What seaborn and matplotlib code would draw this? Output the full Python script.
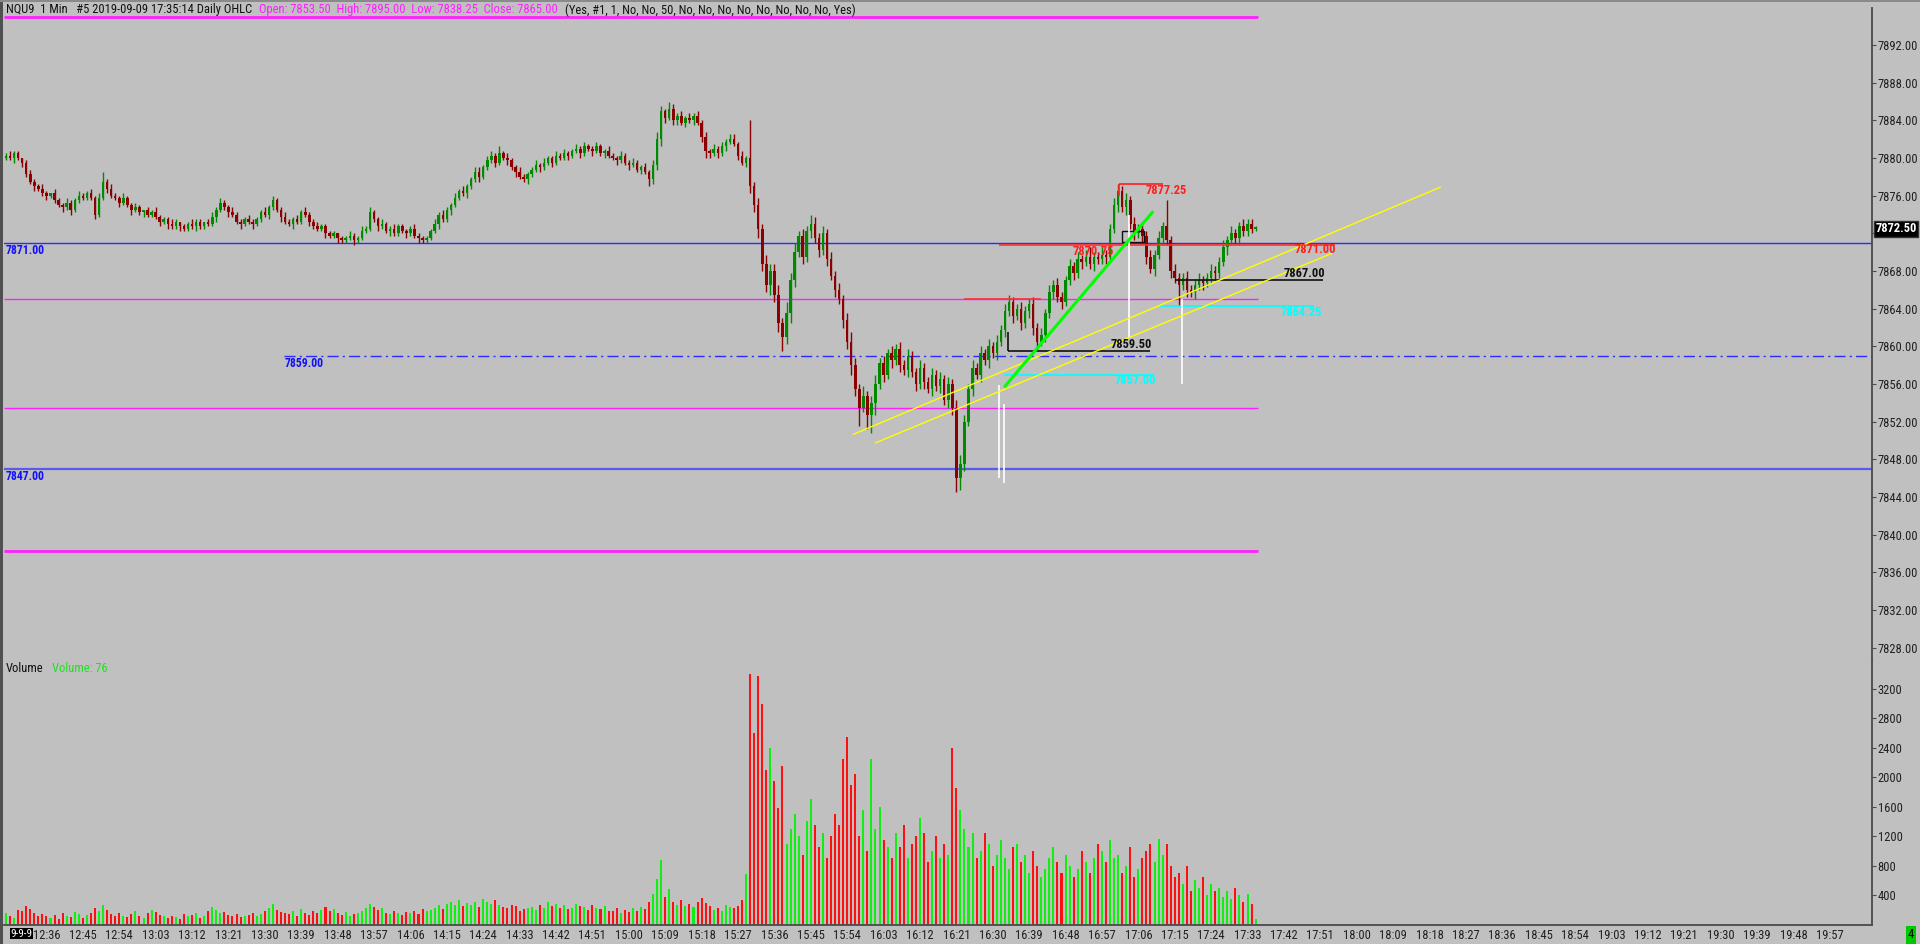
import numpy as np
import pandas as pd
import seaborn as sns
import matplotlib.pyplot as plt
import matplotlib.transforms as mtransforms
from matplotlib import font_manager
from matplotlib.patches import Rectangle

# ---------------- data ----------------
first_open = 7880.0

closes = [
    7880.25, 7880.0, 7880.5, 7880.0, 7879.5, 7878.25, 7877.5, 7877.0, 7876.75, 7876.25,
    7876.0, 7876.25, 7875.5, 7875.0, 7874.75, 7875.25, 7874.5, 7875.5, 7876.0, 7875.75,
    7876.25, 7875.75, 7874.0, 7875.75, 7877.5, 7876.75, 7876.0, 7875.75, 7875.25, 7875.75,
    7875.0, 7874.5, 7874.75, 7874.25, 7874.5, 7874.0, 7874.25, 7873.75, 7873.25, 7873.5,
    7873.0, 7872.75, 7873.25, 7872.75, 7872.5, 7873.0, 7872.75, 7873.25, 7872.75, 7873.25,
    7873.0, 7873.75, 7874.5, 7875.25, 7874.75, 7874.25, 7874.0, 7873.25, 7873.0, 7873.5,
    7873.25, 7873.0, 7873.5, 7874.25, 7874.0, 7874.75, 7875.5, 7874.5, 7873.75, 7873.25,
    7873.0, 7873.5, 7873.25, 7874.25, 7874.0, 7873.25, 7872.75, 7872.5, 7872.75, 7872.0,
    7871.75, 7872.0, 7871.5, 7871.25, 7871.5, 7871.75, 7871.25, 7871.5, 7872.25, 7872.5,
    7874.25, 7873.5, 7872.75, 7873.0, 7872.25, 7872.5, 7872.0, 7872.75, 7872.25, 7872.0,
    7872.5, 7871.75, 7871.5, 7871.25, 7871.5, 7872.25, 7873.0, 7874.0, 7873.5, 7874.5,
    7875.0, 7875.75, 7876.5, 7876.25, 7877.0, 7877.75, 7878.5, 7878.0, 7879.0, 7879.75,
    7880.25, 7879.5, 7880.5, 7880.0, 7879.75, 7879.0, 7878.5, 7878.0, 7877.75, 7878.25,
    7878.75, 7879.25, 7879.0, 7879.5, 7880.0, 7879.5, 7880.25, 7880.0, 7880.5, 7880.25,
    7880.75, 7881.0, 7880.5, 7881.25, 7881.0, 7880.75, 7881.25, 7880.5, 7880.75, 7880.25,
    7880.0, 7879.75, 7880.25, 7879.5, 7879.25, 7879.5, 7878.75, 7879.0, 7878.5, 7877.75,
    7879.25, 7882.0, 7885.0, 7884.25, 7885.25, 7884.0, 7884.5, 7883.75, 7884.25, 7884.0,
    7884.5, 7883.75, 7882.25, 7880.75, 7880.5, 7881.0, 7880.5, 7881.25, 7881.75, 7882.0,
    7881.5, 7880.25, 7879.5, 7880.0, 7877.0, 7875.0, 7872.5, 7868.75, 7866.5, 7868.0,
    7865.5, 7862.5, 7861.0, 7863.5, 7867.0, 7870.0, 7871.75, 7869.5, 7872.25, 7873.0,
    7871.5, 7870.25, 7872.0, 7869.25, 7867.5, 7866.0, 7865.0, 7862.75, 7860.5, 7858.0,
    7855.5, 7853.5, 7854.75, 7852.75, 7854.0, 7856.0, 7858.25, 7857.0, 7859.25, 7858.5,
    7859.75, 7858.0, 7857.5, 7859.0, 7857.25, 7856.0, 7857.75, 7856.25, 7855.5, 7857.0,
    7855.75, 7856.5, 7854.25, 7856.0, 7853.5, 7846.0, 7847.5, 7852.0, 7855.5, 7857.75,
    7857.0, 7859.25, 7858.5, 7860.0, 7859.25, 7860.5, 7861.75, 7863.75, 7864.75, 7863.25,
    7864.0, 7862.5, 7863.75, 7864.5, 7862.0, 7860.5, 7861.25, 7863.5, 7865.75, 7866.5,
    7865.25, 7864.75, 7867.0, 7868.5, 7867.75, 7869.25, 7869.0, 7869.5, 7868.75, 7869.5,
    7869.25, 7869.75, 7869.5, 7872.5, 7875.0, 7876.5, 7874.75, 7875.5, 7873.0, 7872.0,
    7872.5, 7871.75, 7869.5, 7868.25, 7869.75, 7871.5, 7872.75, 7871.25, 7868.0, 7867.25,
    7866.5, 7867.25, 7866.0, 7865.75, 7866.5, 7867.0, 7866.75, 7867.25, 7868.0, 7867.75,
    7869.0, 7870.5, 7871.25, 7872.0, 7871.5, 7872.75, 7872.25, 7873.0, 7872.5, 7872.5,
]

# wick lengths above / below the body, in 0.25 ticks
up_ticks = [
    1, 2, 1, 1, 0, 1, 2, 1, 1, 2,  1, 0, 2, 1, 1, 2, 1, 1, 2, 1,
    1, 2, 1, 2, 4, 1, 2, 1, 1, 2,  1, 1, 2, 1, 0, 1, 1, 2, 1, 1,
    1, 2, 1, 0, 1, 1, 2, 1, 1, 0,  1, 2, 1, 2, 1, 1, 2, 1, 1, 1,
    2, 1, 1, 1, 2, 1, 2, 1, 1, 2,  1, 1, 2, 1, 2, 1, 1, 2, 1, 1,
    1, 1, 0, 1, 1, 2, 1, 1, 2, 1,  2, 1, 1, 2, 1, 1, 2, 1, 1, 1,
    1, 2, 1, 1, 1, 1, 2, 1, 2, 1,  1, 2, 1, 2, 1, 1, 2, 2, 1, 2,
    2, 1, 3, 1, 2, 1, 1, 2, 1, 1,  1, 2, 1, 2, 1, 1, 2, 1, 2, 1,
    1, 2, 1, 2, 1, 1, 2, 1, 1, 2,  1, 1, 2, 1, 1, 2, 1, 1, 2, 1,
    2, 3, 2, 1, 3, 2, 1, 2, 1, 2,  1, 2, 1, 2, 1, 2, 1, 2, 1, 2,
    2, 1, 2, 1, 16, 2, 3, 2, 4, 3,  3, 4, 2, 5, 3, 4, 2, 3, 2, 4,
    3, 2, 3, 2, 3, 2, 3, 2, 3, 4,  3, 2, 4, 2, 3, 4, 2, 3, 2, 3,
    2, 3, 2, 3, 2, 2, 3, 2, 2, 3,  2, 3, 2, 3, 2, 3, 4, 3, 2, 3,
    2, 3, 2, 3, 2, 3, 2, 3, 3, 2,  2, 3, 2, 2, 3, 2, 3, 2, 3, 2,
    3, 2, 2, 3, 2, 3, 2, 3, 4, 2,  2, 3, 2, 2, 3, 3, 2, 3, 2, 3,
    2, 3, 2, 3, 2, 3, 2, 11, 2, 3,  2, 2, 3, 2, 2, 3, 2, 2, 3, 2,
    2, 3, 2, 3, 2, 2, 3, 2, 2, 1,
]
dn_ticks = [
    1, 1, 2, 1, 2, 1, 1, 2, 1, 1,  2, 1, 1, 1, 2, 1, 2, 1, 1, 1,
    1, 1, 2, 1, 1, 2, 1, 1, 2, 1,  1, 2, 1, 1, 2, 1, 1, 1, 2, 1,
    2, 1, 1, 2, 1, 1, 1, 2, 1, 1,  1, 1, 2, 1, 1, 2, 1, 1, 2, 1,
    1, 2, 1, 1, 1, 2, 1, 1, 2, 1,  1, 2, 1, 1, 1, 2, 1, 1, 1, 2,
    1, 1, 2, 1, 1, 1, 2, 1, 1, 1,  1, 1, 2, 1, 1, 2, 1, 1, 1, 2,
    1, 1, 2, 1, 1, 1, 1, 2, 1, 1,  2, 1, 1, 1, 2, 1, 1, 2, 1, 1,
    1, 2, 1, 1, 2, 1, 2, 1, 1, 2,  1, 1, 2, 1, 1, 2, 1, 1, 1, 2,
    1, 1, 2, 1, 1, 2, 1, 1, 2, 1,  1, 2, 1, 1, 2, 1, 1, 2, 1, 3,
    2, 2, 3, 2, 1, 2, 2, 1, 2, 1,  2, 1, 2, 3, 2, 1, 2, 1, 2, 1,
    1, 2, 1, 2, 3, 3, 4, 3, 3, 4,  3, 4, 6, 3, 4, 3, 2, 3, 2, 3,
    2, 3, 2, 3, 2, 3, 2, 3, 3, 4,  3, 8, 2, 6, 8, 5, 2, 3, 2, 3,
    2, 3, 2, 3, 2, 3, 2, 3, 2, 3,  2, 3, 2, 3, 3, 6, 5, 3, 2, 3,
    2, 3, 2, 3, 2, 3, 2, 3, 2, 3,  2, 3, 2, 3, 3, 4, 2, 3, 2, 3,
    2, 3, 2, 2, 3, 2, 3, 2, 2, 3,  2, 2, 3, 2, 2, 3, 2, 3, 2, 3,
    2, 3, 3, 2, 3, 2, 3, 2, 3, 2,  9, 2, 3, 2, 3, 2, 3, 2, 2, 3,
    2, 2, 3, 2, 2, 3, 2, 2, 2, 1,
]

volumes = [
    150, 120, 90, 200, 180, 250, 210, 160, 120, 140,
    110, 90, 130, 80, 160, 120, 100, 170, 140, 90,
    130, 150, 220, 180, 260, 200, 140, 110, 150, 120,
    100, 140, 180, 120, 90, 150, 200, 170, 130, 110,
    90, 120, 100, 80, 140, 110, 130, 160, 90, 120,
    180, 240, 200, 150, 170, 130, 110, 140, 100, 120,
    130, 160, 110, 140, 190, 220, 280, 200, 170, 150,
    140, 180, 120, 210, 160, 130, 190, 150, 200, 240,
    180, 210, 150, 130, 170, 120, 140, 160, 190, 230,
    280, 240, 200, 220, 160, 140, 180, 150, 130, 170,
    160, 190, 140, 210, 180, 200, 230, 260, 210, 280,
    300, 270, 330, 250, 290, 260, 310, 240, 350, 300,
    280, 330, 260, 240, 220, 270, 250, 190, 210, 230,
    240, 200, 260, 220, 300, 250, 280, 230, 270, 210,
    220, 280, 250, 240, 200, 260, 230, 210, 250, 190,
    180, 220, 160, 200, 170, 230, 190, 240, 210, 300,
    420, 620, 870, 380, 480, 300, 260, 330, 250, 280,
    240, 310, 360, 290, 250, 200, 230, 190, 260, 240,
    220, 250, 330, 680, 3400, 2600, 3380, 3000, 2100, 2400,
    1950, 1580, 2150, 1100, 1300, 1500, 1200, 950, 1400, 1700,
    1350, 1050, 1250, 900, 1200, 1500, 1350, 2250, 2550, 1900,
    2050, 1200, 1550, 1000, 2250, 1300, 1600, 1150, 1050, 900,
    1250, 1050, 1350, 900, 1100, 1200, 1450, 1250, 850, 1000,
    1200, 900, 1100, 950, 2400, 1850, 1550, 1300, 1050, 1250,
    900, 1000, 1250, 1100, 800, 950, 1150, 900, 750, 1050,
    1100, 850, 950, 700, 1000, 800, 650, 750, 900, 1050,
    850, 700, 950, 800, 650, 750, 1000, 850, 700, 900,
    1100, 1000, 850, 1150, 900, 950, 700, 800, 1050, 650,
    750, 900, 1000, 1100, 850, 1160, 950, 1100, 800, 650,
    700, 550, 800, 450, 600, 500, 650, 400, 550, 450,
    500, 380, 450, 350, 500, 400, 300, 420, 280, 76,
]

time_labels = [
    '9-9-9', '12:36', '12:45', '12:54', '13:03', '13:12', '13:21', '13:30', '13:39',
    '13:48', '13:57', '14:06', '14:15', '14:24', '14:33', '14:42', '14:51', '15:00',
    '15:09', '15:18', '15:27', '15:36', '15:45', '15:54', '16:03', '16:12', '16:21',
    '16:30', '16:39', '16:48', '16:57', '17:06', '17:15', '17:24', '17:33', '17:42',
    '17:51', '18:00', '18:09', '18:18', '18:27', '18:36', '18:45', '18:54', '19:03',
    '19:12', '19:21', '19:30', '19:39', '19:48', '19:57',
]

price_ticks = [7828, 7832, 7836, 7840, 7844, 7848, 7852, 7856, 7860,
               7864, 7868, 7872, 7876, 7880, 7884, 7888, 7892]
volume_ticks = [400, 800, 1200, 1600, 2000, 2400, 2800, 3200]

daily_levels = [7895.0, 7865.0, 7853.5, 7838.25]   # high, close, open, low
daily_widths = [2.0, 1.0, 1.0, 2.0]
blue_levels = [7871.0, 7847.0]
dash_level = 7859.0
last_price = 7872.50

header_parts = [
    ('NQU9  1 Min   #5 2019-09-09 17:35:14 Daily OHLC', '#101010'),
    ('Open: 7853.50  High: 7895.00  Low: 7838.25  Close: 7865.00', '#FF20FF'),
    ('(Yes, #1, 1, No, No, 50, No, No, No, No, No, No, No, No, Yes)', '#101010'),
]

# drawn objects: (bar_start, bar_end, price, colour)
hsegments = [
    (275.3, 286.2, 7877.25, '#FF2020'),
    (245.6, 328.7, 7870.75, '#FF3030'),
    (237.0, 256.0, 7865.0, '#FF3030'),
    (289.0, 325.7, 7867.0, '#101010'),
    (285.3, 323.5, 7864.25, '#00FFFF'),
    (247.7, 282.9, 7859.5, '#101010'),
    (246.8, 283.8, 7857.0, '#00FFFF'),
]
# labels: (bar, price, text, colour)
seg_labels = [
    (286.8, 7876.5, '7877.25', '#FF2020'),
    (268.8, 7870.1, '7870.75', '#FF2020'),
    (323.9, 7870.3, '7871.00', '#FF2020'),
    (321.1, 7867.7, '7867.00', '#101010'),
    (320.2, 7863.6, '7864.25', '#00FFFF'),
    (278.3, 7860.15, '7859.50', '#101010'),
    (279.2, 7856.4, '7857.00', '#00FFFF'),
]
# white vertical markers: (bar, price_top, price_bottom)
white_marks = [(245.6, 7855.9, 7846.0), (246.8, 7853.9, 7845.5),
               (277.7, 7874.0, 7861.0), (290.8, 7865.0, 7856.0)]
green_line = [(247.0, 7855.75), (283.5, 7874.25)]
yellow_lines = [[(209.5, 7850.65), (354.7, 7876.9)],
                [(215.0, 7849.75), (328.0, 7869.9)]]

# ---------------- frame ----------------
n = len(closes)
opens = [first_open] + closes[:-1]
df = pd.DataFrame({'bar': np.arange(n), 'open': opens, 'close': closes,
                   'volume': volumes})
df['high'] = df[['open', 'close']].max(axis=1) + np.array(up_ticks) * 0.25
df['low'] = df[['open', 'close']].min(axis=1) - np.array(dn_ticks) * 0.25
df['dir'] = np.where(df['close'] >= df['open'], 'up', 'down')

BG = '#C0C0C0'
sns.set_style('white', rc={'axes.facecolor': BG, 'figure.facecolor': BG})

names = {f.name for f in font_manager.fontManager.ttflist}
FONT, FS = 'Liberation Sans', 8
for cand in ['Liberation Sans Narrow', 'Roboto Condensed', 'Open Sans Condensed']:
    if cand in names:
        FONT, FS = cand, 9
        break
plt.rcParams['font.family'] = [FONT, 'DejaVu Sans']

W, H = 1920, 944
fig = plt.figure(figsize=(19.2, 9.44), dpi=100, facecolor=BG)


def rect(x0, y0, x1, y1):
    return [x0 / W, 1 - y1 / H, (x1 - x0) / W, (y1 - y0) / H]


def fpos(x, y):
    return x / W, 1 - y / H


axp = fig.add_axes(rect(4, 8, 1872, 660))
axv = fig.add_axes(rect(4, 660, 1872, 924.5))
XLIM = (-0.5, -0.5 + 1868 / 4.044)
AXIS_COL = '#4a4a4a'

# ---------------- price panel ----------------
up_col, dn_col = '#008A00', '#8B0000'
cols = np.where(df['dir'] == 'up', up_col, dn_col)
axp.vlines(df['bar'], df['low'], df['high'], colors=cols, linewidth=1.0, zorder=3)
body = np.maximum((df['close'] - df['open']).abs(), 0.12)
axp.bar(df['bar'], body, bottom=df[['open', 'close']].min(axis=1), width=0.62,
        color=cols, linewidth=0, zorder=4)

for lvl, lw in zip(daily_levels, daily_widths):
    axp.hlines(lvl, XLIM[0], n - 0.5, colors='#FF20FF', linewidth=lw, zorder=2)
axp.axhline(blue_levels[0], color='#2B2BFF', linewidth=1.0, zorder=2)
axp.axhline(blue_levels[1], color='#5A5AF0', linewidth=1.6, zorder=2)
axp.hlines(dash_level, 68.8, XLIM[1], colors='#2B2BFF', linewidth=1.0,
           linestyles=(0, (8, 3, 1.5, 3)), zorder=2)

lbl_kw = dict(color='#1010FF', fontsize=FS - 0.5, fontweight='bold', va='top', ha='left')
axp.text(0.0, blue_levels[0] - 0.15, '7871.00', **lbl_kw)
axp.text(0.0, blue_levels[1] - 0.15, '7847.00', **lbl_kw)
axp.text(68.8, dash_level - 0.15, '7859.00', **lbl_kw)

for x0, x1, p, c in hsegments:
    axp.hlines(p, x0, x1, colors=c, linewidth=1.2, zorder=5)
axp.vlines(275.3, 7876.0, 7877.25, colors='#FF2020', linewidth=1.2, zorder=5)
axp.vlines(247.7, 7859.5, 7861.5, colors='#101010', linewidth=1.2, zorder=5)
axp.add_patch(Rectangle((276.0, 7871.1), 5.3, 1.2, fill=False, edgecolor='#101010',
                        linewidth=1.0, zorder=5))
for b, p, t, c in seg_labels:
    axp.text(b, p, t, color=c, fontsize=FS, fontweight='bold', ha='center',
             va='center', zorder=6)

for b, p0, p1 in white_marks:
    axp.vlines(b, p1, p0, colors='white', linewidth=1.2, zorder=5)
for seg in yellow_lines:
    axp.plot([seg[0][0], seg[1][0]], [seg[0][1], seg[1][1]], color='#FFFF00',
             linewidth=1.0, zorder=5)
axp.plot([green_line[0][0], green_line[1][0]], [green_line[0][1], green_line[1][1]],
         color='#00FF00', linewidth=2.2, zorder=6)

axp.set_xlim(*XLIM)
axp.set_ylim(7826.69, 7895.93)
axp.set_xticks([])
axp.yaxis.tick_right()
axp.set_yticks(price_ticks)
# the 7872.00 label sits under the last-price box, as in the screenshot
axp.set_yticklabels(['' if abs(v - last_price) < 1 else f'{v:.2f}' for v in price_ticks])
axp.tick_params(axis='y', direction='out', length=3, width=0.8, color=AXIS_COL,
                labelsize=FS, labelcolor='#202020', pad=1)
for s in ['left', 'top', 'bottom']:
    axp.spines[s].set_visible(False)
axp.spines['right'].set_color(AXIS_COL)
axp.spines['right'].set_linewidth(1.3)

tr = mtransforms.blended_transform_factory(axp.transAxes, axp.transData)
axp.text(1.0017, last_price, f'{last_price:.2f}', transform=tr, color='white',
         fontsize=FS, fontweight='bold', ha='left', va='center', zorder=10,
         clip_on=False, bbox=dict(facecolor='black', edgecolor='#333333', pad=1.2))

# ---------------- volume panel ----------------
sns.barplot(data=df, x='bar', y='volume', hue='dir',
            palette={'up': '#10F010', 'down': '#FF1010'}, native_scale=True,
            dodge=False, width=0.5, saturation=1, errorbar=None, legend=False,
            linewidth=0, ax=axv)
axv.set_xlim(*XLIM)
axv.set_ylim(0, 3595)
axv.set_xlabel('')
axv.set_ylabel('')
axv.yaxis.tick_right()
axv.set_yticks(volume_ticks)
axv.set_yticklabels([str(v) for v in volume_ticks])
axv.tick_params(axis='y', direction='out', length=3, width=0.8, color=AXIS_COL,
                labelsize=FS, labelcolor='#202020', pad=1)
tick_pos = [1 + 9 * k for k in range(len(time_labels))]
axv.set_xticks(tick_pos)
xl = axv.set_xticklabels(time_labels)
axv.tick_params(axis='x', length=0, labelsize=FS, labelcolor='#202020', pad=3)
xl[0].set_color('white')
xl[0].set_fontsize(FS - 1)
xl[0].set_ha('left')
xl[0].set_x(-0.5)
xl[0].set_bbox(dict(facecolor='black', edgecolor='none', pad=0.3))
for s in ['left', 'top']:
    axv.spines[s].set_visible(False)
for s in ['right', 'bottom']:
    axv.spines[s].set_color(AXIS_COL)
    axv.spines[s].set_linewidth(1.3)

# ---------------- header / chrome ----------------
anchor = fig.text(*fpos(6, 10), header_parts[0][0], color=header_parts[0][1],
                  fontsize=FS, va='center', ha='left')
for txt, col in header_parts[1:]:
    anchor = axp.annotate(txt, xy=(1, 0.5), xycoords=anchor, xytext=(5, 0),
                          textcoords='offset points', color=col, fontsize=FS,
                          va='center', ha='left', annotation_clip=False)

vol_lbl = fig.text(*fpos(6, 668), 'Volume', color='#101010', fontsize=FS,
                   va='center', ha='left')
axv.annotate('Volume: 76', xy=(1, 0.5), xycoords=vol_lbl, xytext=(6, 0),
             textcoords='offset points', color='#20E020', fontsize=FS,
             va='center', ha='left', annotation_clip=False)
fig.text(*fpos(1911, 935), '4', color='black', fontsize=FS, va='center', ha='center',
         bbox=dict(facecolor='#00C800', edgecolor='none', pad=1.5))

fig.add_artist(Rectangle((0, 0), 3 / W, 1, transform=fig.transFigure,
                         facecolor='#505050', edgecolor='none'))
fig.add_artist(Rectangle((0, 1 - 2 / H), 1, 2 / H, transform=fig.transFigure,
                         facecolor='#8a8a8a', edgecolor='none'))

fig.savefig('out.png', dpi=100, facecolor=BG)
